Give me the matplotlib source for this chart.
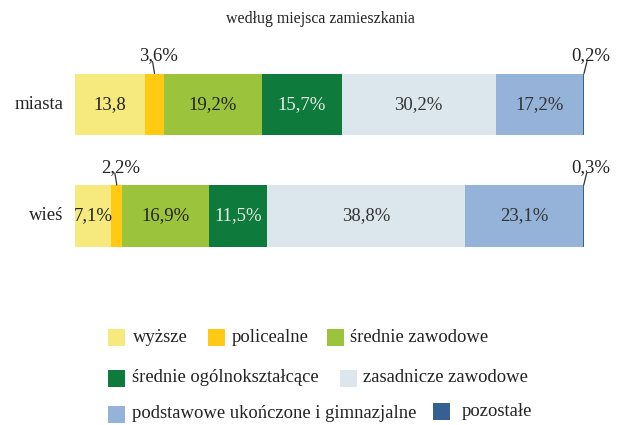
import matplotlib
matplotlib.use('Agg')
import matplotlib.pyplot as plt
from matplotlib.patches import Rectangle

# data
GROUPS = ['miasta', 'wieś']
CATEGORIES = ['wyższe', 'policealne', 'średnie zawodowe', 'średnie ogólnokształcące',
              'zasadnicze zawodowe', 'podstawowe ukończone i gimnazjalne', 'pozostałe']
MIASTA = [13.8, 3.6, 19.2, 15.7, 30.2, 17.2, 0.2]
WIES = [7.1, 2.2, 16.9, 11.5, 38.8, 23.1, 0.3]
MIASTA_LABELS = ['13,8', '3,6%', '19,2%', '15,7%', '30,2%', '17,2%', '0,2%']
WIES_LABELS = ['7,1%', '2,2%', '16,9%', '11,5%', '38,8%', '23,1%', '0,3%']
TITLE = 'według miejsca zamieszkania'

COLORS = ['#F6EA7E', '#FFC914', '#9BC33C', '#0E7A3B', '#DCE6ED', '#95B3D8', '#366092']
TEXT_COLORS = ['#222222', None, '#222222', '#E8F0E8', '#333333', '#333333', None]
# small segments get a label above with a leader line:
# index -> (label x offset px, leader top x offset px)
OUTSIDE = {1: (4, -2), 6: (7, 3)}
LEADER_H = 12  # px

W, H = 617, 425
plt.rcParams['font.family'] = ['Liberation Serif', 'DejaVu Serif']

fig = plt.figure(figsize=(W / 100, H / 100), dpi=100)
ax = fig.add_axes([75 / W, 1 - 271.75 / H, 510 / W, 223 / H])
ax.set_xlim(0, 100)
ax.set_ylim(1.5, -0.5)
ax.axis('off')

bar_h = 0.556
for row, (vals, labels) in enumerate([(MIASTA, MIASTA_LABELS), (WIES, WIES_LABELS)]):
    left = 0
    for i, (v, lab) in enumerate(zip(vals, labels)):
        ax.barh(row, v, left=left, height=bar_h, color=COLORS[i], edgecolor='none')
        mid = left + v / 2
        if i in OUTSIDE:
            dx_text, dx_line = OUTSIDE[i]
            top = (mid, row - bar_h / 2)
            ax.annotate('', xy=top, xytext=(dx_line, LEADER_H),
                        textcoords='offset pixels',
                        arrowprops=dict(arrowstyle='-', color='#333333', lw=0.9,
                                        shrinkA=0, shrinkB=0))
            ax.annotate(lab, xy=top, xytext=(dx_text, LEADER_H + 1),
                        textcoords='offset pixels', ha='center', va='baseline',
                        fontsize=13.5, color='#222222')
        else:
            ax.text(mid, row, lab, ha='center', va='center', fontsize=13.5,
                    color=TEXT_COLORS[i])
        left += v
    ax.text(-2.2, row, GROUPS[row], ha='right', va='center', fontsize=13.5,
            color='#222222')

fig.text(320 / W, 1 - 19 / H, TITLE, ha='center', va='center', fontsize=11.4,
         color='#222222')

# legend layout: (category index, patch x px, text x px, row y px)
LEGEND_POS = [(0, 108, 133, 337), (1, 208, 232, 337), (2, 327, 350, 337),
              (3, 108, 132, 378), (4, 340, 363, 378),
              (5, 108, 132, 414), (6, 433, 462, 411)]
ps = 17
for idx, px, tx, py in LEGEND_POS:
    fig.add_artist(Rectangle((px / W, 1 - (py + ps / 2) / H), ps / W, ps / H,
                             transform=fig.transFigure, color=COLORS[idx], lw=0))
    fig.text(tx / W, 1 - py / H, CATEGORIES[idx], ha='left', va='center',
             fontsize=13.4, color='#222222')

fig.savefig('out.png', dpi=100)
